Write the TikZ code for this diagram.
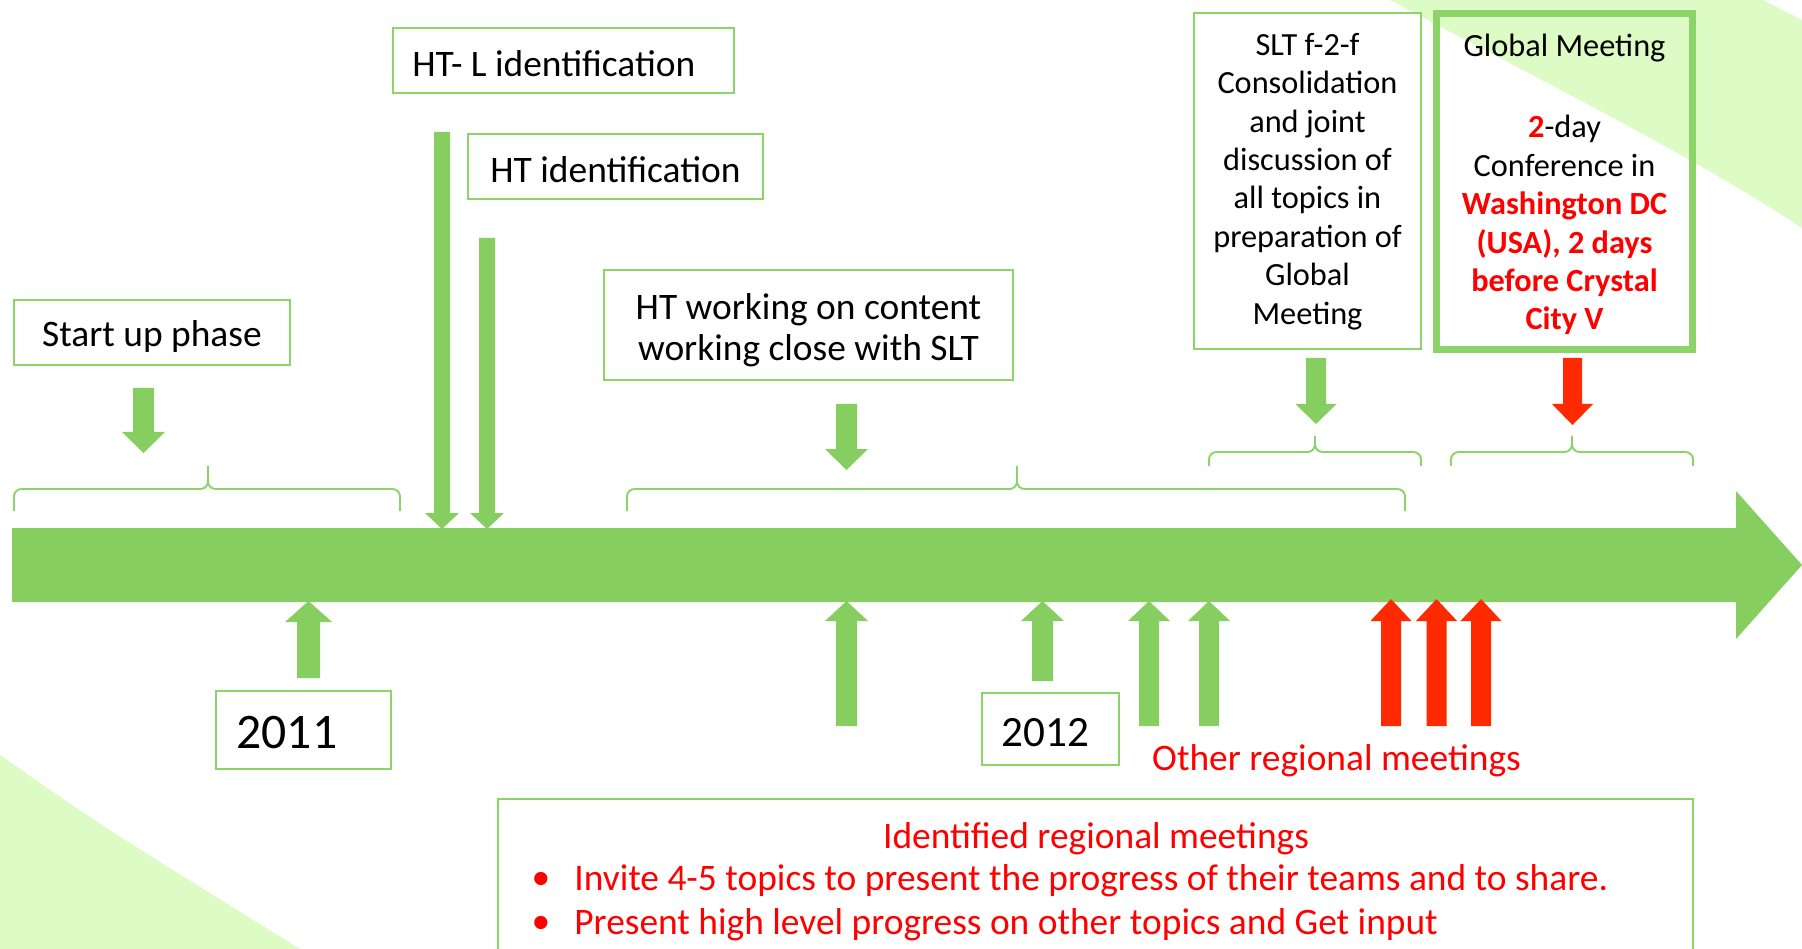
\documentclass[tikz,border=0pt]{standalone}
\usepackage{fontspec}
\setmainfont{Carlito}
\definecolor{tlgreen}{HTML}{86CE5F}
\definecolor{bggreen}{HTML}{DDFBC5}
\definecolor{boxgreen}{HTML}{8CD46A}
\definecolor{arrred}{HTML}{FF2A00}
\definecolor{txtred}{HTML}{FF0000}
\newcommand{\fmain}{\fontsize{21.3pt}{23.6pt}\selectfont}
\newcommand{\fsmall}{\fontsize{18.4pt}{21.85pt}\selectfont}
\newcommand{\fyearA}{\fontsize{28.3pt}{32pt}\selectfont}
\newcommand{\fyearB}{\fontsize{24.6pt}{28pt}\selectfont}
% block arrow: colour, cx, shaft half, head half, tail y, head base y, tip y
\newcommand{\blockarrow}[7]{%
  \fill[#1] ({#2-#3},#5) -- ({#2+#3},#5) -- ({#2+#3},#6) -- ({#2+#4},#6) -- (#2,#7)
    -- ({#2-#4},#6) -- ({#2-#3},#6) -- cycle;}
% brace: x1, x2, xtip, ytip, yline, yend
\newcommand{\tlbrace}[6]{%
  \draw[bracestyle] (#1,#6) -- (#1,#5) -- (#3,#5) -- (#3,#4);
  \draw[bracestyle] (#2,#6) -- (#2,#5) -- (#3,#5) -- (#3,#4);}
\begin{document}
\begin{tikzpicture}[x=0.02cm,y=-0.02cm,
  box/.style={draw=boxgreen, line width=1.1pt, fill=white, inner sep=0pt},
  txt/.style={inner sep=0pt, align=center, font=\fmain},
  bracestyle/.style={draw=boxgreen, line width=1.1pt, rounded corners=0.15cm}]
\useasboundingbox (0,0) rectangle (1802,949);
\clip (0,0) rectangle (1802,949);
\fill[white] (0,0) rectangle (1802,949);
% background shapes
\fill[bggreen] (1390,0) .. controls (1550,85) and (1700,160) .. (1802,228) -- (1802,20) -- (1763,0) -- cycle;
\fill[bggreen] (0,755) .. controls (100,825) .. (300,949) -- (0,949) -- cycle;
% timeline
\fill[tlgreen] (12,528) -- (1736,528) -- (1736,491) -- (1802,565) -- (1736,639) -- (1736,602) -- (12,602) -- cycle;
% boxes
\node[box, minimum width=5.52cm, minimum height=1.30cm] (startup) at (152,332.5) {};
\node[txt] (startupT) at ([yshift=-0.09cm]startup.center) {Start up phase};
\node[box, minimum width=6.82cm, minimum height=1.30cm] (htl) at (563.5,60.5) {};
\node[txt, anchor=west] (htlT) at ([xshift=0.4cm, yshift=-0.06cm]htl.west) {HT- L identification};
\node[box, minimum width=5.90cm, minimum height=1.30cm] (ht) at (615.5,166.5) {};
\node[txt] (htT) at ([yshift=-0.07cm]ht.center) {HT identification};
\node[box, minimum width=8.18cm, minimum height=2.20cm] (htw) at (808.5,325) {};
\node[txt] (htwT) at ([yshift=-0.1cm]htw.center) {HT working on content\\working close with SLT};
\node[box, minimum width=4.54cm, minimum height=6.72cm] (slt) at (1307.5,181) {};
\node[txt, font=\fsmall] (sltT) at ([yshift=-0.01cm]slt.center) {SLT f-2-f\\Consolidation\\and joint\\discussion of\\all topics in\\preparation of\\Global\\Meeting};
\node[box, fill=none, line width=4pt, minimum width=5.12cm, minimum height=6.72cm] (glob) at (1564.5,181.5) {};
\node[txt, font=\fsmall] (globT) at ([yshift=-0.06cm]glob.center) {Global Meeting\\[0.86cm]\textcolor{txtred}{\textbf{2}}-day\\Conference in\\\textcolor{txtred}{\textbf{Washington DC}}\\\textcolor{txtred}{\textbf{(USA), 2 days}}\\\textcolor{txtred}{\textbf{before Crystal}}\\\textcolor{txtred}{\textbf{City V}}};
\node[box, minimum width=3.50cm, minimum height=1.56cm] (y2011) at (303.5,730) {};
\node[txt, font=\fyearA, anchor=west] (y2011T) at ([xshift=0.42cm, yshift=-0.05cm]y2011.west) {2011};
\node[box, minimum width=2.74cm, minimum height=1.44cm] (y2012) at (1050.5,729) {};
\node[txt, font=\fyearB, anchor=west] (y2012T) at ([xshift=0.4cm, yshift=-0.07cm]y2012.west) {2012};
\node[box, minimum width=23.9cm, minimum height=3.4cm] (botbox) at (1095.5,884) {};
% texts
\node[txt, text=txtred] (other) at (1336.5,761) {Other regional meetings};
\node[txt, text=txtred] (idtitle) at (1096,838.5) {Identified regional meetings};
\node[txt, text=txtred] (bulA) at (541,881) {•};
\node[txt, text=txtred, anchor=west] (itemA) at (574,881) {Invite 4-5 topics to present the progress of their teams and to share.};
\node[txt, text=txtred] (bulB) at (541,925) {•};
\node[txt, text=txtred, anchor=west] (itemB) at (574,925) {Present high level progress on other topics and Get input};
% braces
\tlbrace{14}{400}{208}{466}{489}{511}
\tlbrace{627}{1405}{1017}{466}{489}{511}
\tlbrace{1209}{1421}{1315}{436}{452}{466}
\tlbrace{1451}{1693}{1572}{436}{452}{466}
% down arrows
\blockarrow{tlgreen}{143.5}{10.5}{21.5}{388}{432}{453}
\blockarrow{tlgreen}{442}{8}{17}{132}{513}{529}
\blockarrow{tlgreen}{487}{8}{17}{238}{513}{529}
\blockarrow{tlgreen}{846.5}{10.5}{21.5}{404}{449}{470}
\blockarrow{tlgreen}{1316}{10}{20.5}{358}{404}{424}
\blockarrow{arrred}{1572.5}{9.5}{20.5}{358}{404}{425}
% up arrows
\blockarrow{tlgreen}{308.5}{11.5}{23.5}{678}{622}{601}
\blockarrow{tlgreen}{846.5}{10.5}{21.5}{726}{621}{601}
\blockarrow{tlgreen}{1042.5}{10.5}{21.5}{681}{621}{601}
\blockarrow{tlgreen}{1149}{10}{21}{726}{621}{601}
\blockarrow{tlgreen}{1209}{10}{21}{726}{621}{601}
\blockarrow{arrred}{1391}{10}{20.5}{726}{621}{599}
\blockarrow{arrred}{1436.5}{10}{20.5}{726}{621}{599}
\blockarrow{arrred}{1481}{10}{20.5}{726}{621}{599}
\end{tikzpicture}
\end{document}
